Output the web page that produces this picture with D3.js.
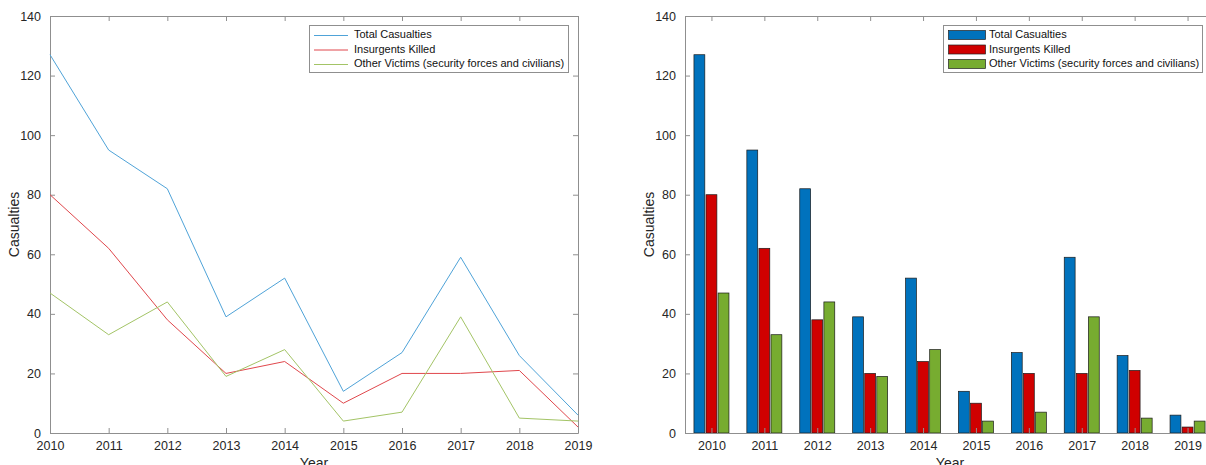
<!DOCTYPE html>
<html>
<head>
<meta charset="utf-8">
<script src="https://cdn.jsdelivr.net/npm/d3@7"></script>
<style>
  html, body { margin: 0; padding: 0; background: #fff; }
  svg { display: block; font-family: "Liberation Sans", Arial, Helvetica, sans-serif; }
</style>
</head>
<body>
<svg id="chart" width="1206" height="465"></svg>
<script>
// Casualties per year
const years = [2010, 2011, 2012, 2013, 2014, 2015, 2016, 2017, 2018, 2019];
const totalCasualties = [127, 95, 82, 39, 52, 14, 27, 59, 26, 6];
const insurgentsKilled = [80, 62, 38, 20, 24, 10, 20, 20, 21, 2];
const otherVictims = [47, 33, 44, 19, 28, 4, 7, 39, 5, 4];
const seriesNames = ["Total Casualties", "Insurgents Killed", "Other Victims (security forces and civilians)"];
const yTicks = [0, 20, 40, 60, 80, 100, 120, 140];

const seriesValues = [totalCasualties, insurgentsKilled, otherVictims];
const lineColors = ["#4fa3d8", "#e0474c", "#a3c466"];
const barColors = ["#0072bd", "#d00000", "#77ac30"];
const axisColor = "#8f8f8f";
const textColor = "#262626";

const svg = d3.select("#chart");

function drawAxes(g, x, y, box, xTickVals) {
  const [x0, x1] = x.range();
  const [yb, yt] = y.range();
  // ticks along all four sides, pointing inward
  g.append("g").attr("transform", `translate(0,${yb})`)
    .call(d3.axisBottom(x).tickValues(xTickVals).tickFormat(d3.format("d")).tickSizeInner(-5).tickSizeOuter(0).tickPadding(8));
  g.append("g").attr("transform", `translate(0,${yt})`)
    .call(d3.axisTop(x).tickValues(xTickVals).tickFormat("").tickSizeInner(-5).tickSizeOuter(0));
  g.append("g").attr("transform", `translate(${x0},0)`)
    .call(d3.axisLeft(y).tickValues(yTicks).tickSizeInner(-5).tickSizeOuter(0).tickPadding(9));
  g.append("g").attr("transform", `translate(${x1},0)`)
    .call(d3.axisRight(y).tickValues(yTicks).tickFormat("").tickSizeInner(-5).tickSizeOuter(0));
  g.selectAll(".domain").attr("stroke", axisColor).attr("stroke-width", 1);
  g.selectAll(".tick line").attr("stroke", axisColor);
  g.selectAll(".tick text").attr("fill", textColor).attr("font-size", 12.5)
    .attr("font-family", "Liberation Sans, Arial, sans-serif");
  // y label
  g.append("text")
    .attr("transform", `translate(${box.ylabelX},${(yb + yt) / 2}) rotate(-90)`)
    .attr("text-anchor", "middle").attr("dominant-baseline", "middle")
    .attr("font-size", 14).attr("fill", textColor).text("Casualties");
  // x label
  g.append("text")
    .attr("x", box.xlabelX).attr("y", 468)
    .attr("text-anchor", "middle")
    .attr("font-size", 14).attr("fill", textColor).text("Year");
}

function drawLegend(g, lx, ly, w, kind, colors) {
  const h = 47;
  g.append("rect").attr("x", lx + 0.5).attr("y", ly + 0.5).attr("width", w).attr("height", h)
    .attr("fill", "#fff").attr("stroke", axisColor).attr("stroke-width", 1);
  seriesNames.forEach((name, i) => {
    const cy = ly + 10.5 + i * 14.5;
    if (kind === "line") {
      g.append("line").attr("x1", lx + 5).attr("x2", lx + 39).attr("y1", cy).attr("y2", cy)
        .attr("stroke", colors[i]).attr("stroke-width", 1);
    } else {
      g.append("rect").attr("x", lx + 5.5).attr("y", cy - 5).attr("width", 37).attr("height", 9)
        .attr("fill", colors[i]).attr("stroke", "#222").attr("stroke-width", 0.7);
    }
    g.append("text").attr("x", lx + (kind === "line" ? 45 : 46)).attr("y", cy)
      .attr("dominant-baseline", "middle").attr("font-size", 11).attr("fill", "#111").text(name);
  });
}

// Left panel: line chart
{
  const g = svg.append("g");
  const x = d3.scaleLinear().domain([2010, 2019]).range([50, 578]);
  const y = d3.scaleLinear().domain([0, 140]).range([433, 16]);
  drawAxes(g, x, y, { ylabelX: 15, xlabelX: 314 }, years);
  const line = d3.line().x((d, i) => x(years[i])).y(d => y(d));
  seriesValues.forEach((vals, i) => {
    g.append("path").datum(vals).attr("d", line).attr("fill", "none")
      .attr("stroke", lineColors[i]).attr("stroke-width", 1);
  });
  drawLegend(g, 309, 25, 259, "line", lineColors);
}

// Right panel: grouped bar chart
{
  const g = svg.append("g");
  const x = d3.scaleLinear().domain([2009.5, 2019.5]).range([685, 1214]);
  const y = d3.scaleLinear().domain([0, 140]).range([433, 16]);
  const inner = d3.scaleBand().domain([0, 1, 2]).range([-17.5, 17.5]).paddingInner(0.1);
  seriesValues.forEach((vals, s) => {
    g.append("g").selectAll("rect").data(vals).join("rect")
      .attr("x", (d, i) => x(years[i]) + inner(s))
      .attr("width", inner.bandwidth())
      .attr("y", d => y(d))
      .attr("height", d => y(0) - y(d))
      .attr("fill", barColors[s])
      .attr("stroke", "#1a1a1a").attr("stroke-width", 0.7);
  });
  drawAxes(g, x, y, { ylabelX: 650, xlabelX: 950 }, years);
  drawLegend(g, 943, 25, 259, "bar", barColors);
}
</script>
</body>
</html>
